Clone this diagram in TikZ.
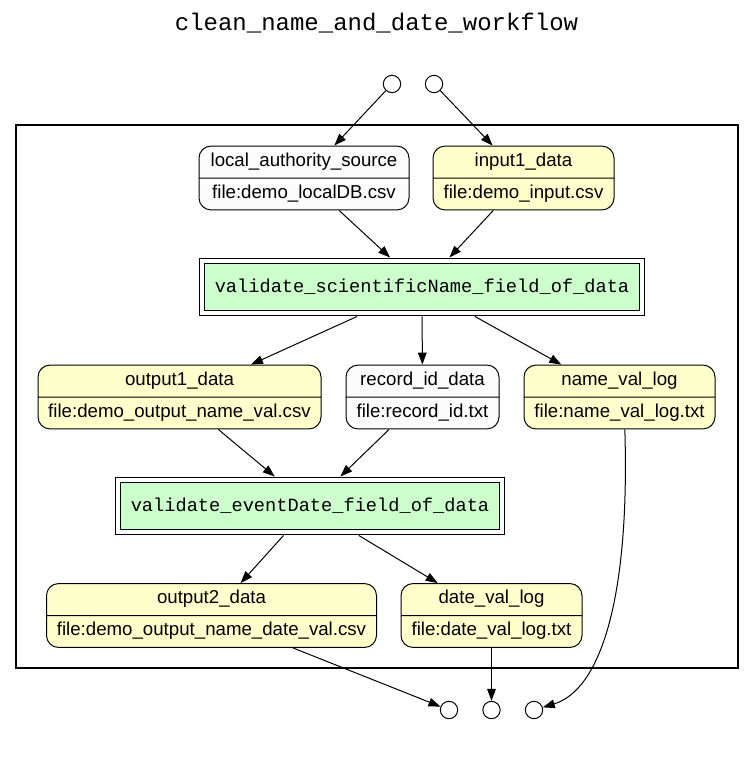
\documentclass[tikz,border=0pt]{standalone}
\usepackage{fontspec}
\setmainfont{Liberation Sans}
\setmonofont{Liberation Mono}
\usetikzlibrary{shapes.multipart,arrows.meta}
\definecolor{datayellow}{HTML}{FFFFCC}
\definecolor{stepgreen}{HTML}{CCFFCC}
\definecolor{paramwhite}{HTML}{FCFCFC}
\begin{document}
\begin{tikzpicture}[
  x=0.75pt,y=-0.75pt,
  line width=0.75pt,
  data/.style={draw,rectangle split,rectangle split parts=2,rounded corners=9pt,
    fill=datayellow,font=\fontsize{14}{16}\selectfont,inner xsep=4pt,inner ysep=3.6pt},
  param/.style={data,fill=paramwhite},
  prog/.style={draw,double,double distance=3pt,fill=stepgreen,outer sep=2.6pt,
    font=\ttfamily\fontsize{14}{16}\selectfont,minimum height=39pt},
  port/.style={draw,circle,inner sep=0pt,minimum size=13pt},
  >={Triangle[length=9pt,width=6.5pt]}]
\useasboundingbox (0,0) rectangle (753,757);
\node[font=\ttfamily\fontsize{18}{20}\selectfont] (title) at (376.5,23) {clean\_name\_and\_date\_workflow};
\draw[line width=1.5pt] (16,125) rectangle (738,668);
% inputs / outputs of the workflow
\node[port] (in1) at (392,84) {};
\node[port] (in2) at (434,84) {};
\node[port] (out1) at (449,710) {};
\node[port] (out2) at (491.5,710) {};
\node[port] (out3) at (534,710) {};
\node[param,minimum width=157.5pt] (las) at (304,178) {local\_authority\_source\strut\nodepart{two}file:demo\_localDB.csv\strut};
\node[data,minimum width=135.75pt] (inp) at (523.5,178) {input1\_data\strut\nodepart{two}file:demo\_input.csv\strut};
\node[prog,minimum width=330pt] (vsn) at (422,287) {validate\_scientificName\_field\_of\_data};
\node[data,minimum width=212.25pt] (o1d) at (179.5,397) {output1\_data\strut\nodepart{two}file:demo\_output\_name\_val.csv\strut};
\node[param,minimum width=114.75pt] (rid) at (422.5,397) {record\_id\_data\strut\nodepart{two}file:record\_id.txt\strut};
\node[data,minimum width=143.25pt] (nvl) at (619.5,397) {name\_val\_log\strut\nodepart{two}file:name\_val\_log.txt\strut};
\node[prog,minimum width=288pt] (ved) at (310,506) {validate\_eventDate\_field\_of\_data};
\node[data,minimum width=247.5pt] (o2d) at (211.5,615.5) {output2\_data\strut\nodepart{two}file:demo\_output\_name\_date\_val.csv\strut};
\node[data,minimum width=135.75pt] (dvl) at (491.5,615.5) {date\_val\_log\strut\nodepart{two}file:date\_val\_log.txt\strut};
\draw[->] (in1) -- (las);
\draw[->] (in2) -- (inp);
\draw[->] (las) -- (vsn);
\draw[->] (inp) -- (vsn);
\draw[->] (vsn) -- (o1d);
\draw[->] (vsn) -- (rid);
\draw[->] (vsn) -- (nvl);
\draw[->] (o1d) -- (ved);
\draw[->] (rid) -- (ved);
\draw[->] (ved) -- (o2d);
\draw[->] (ved) -- (dvl);
\draw[->] (o2d) -- (out1);
\draw[->] (dvl) -- (out2);
\draw[->] ([xshift=4pt]nvl.south) .. controls (630,600) and (600,690) .. (out3);
\end{tikzpicture}
\end{document}
